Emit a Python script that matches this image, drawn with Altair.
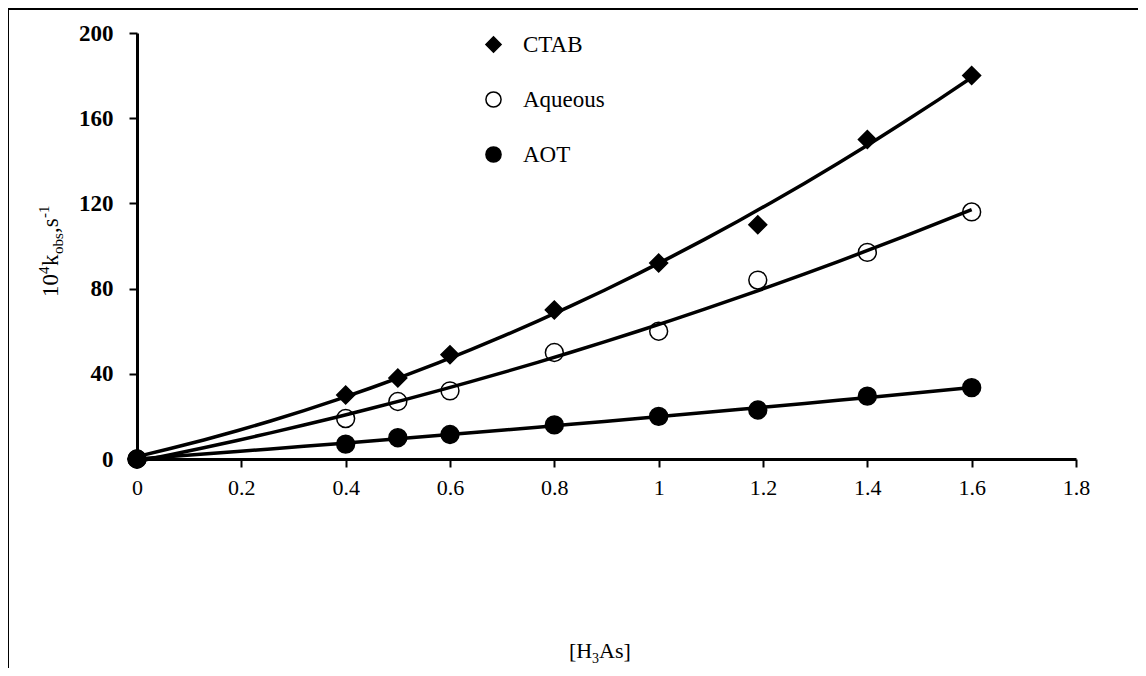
import altair as alt
import pandas as pd

# ---- data ----
conc = [0, 0.4, 0.5, 0.6, 0.8, 1.0, 1.19, 1.4, 1.6]
ctab = [0, 30, 38, 49, 70, 92, 110, 150, 180]
aqueous = [0, 19, 27, 32, 50, 60, 84, 97, 116]
aot = [0, 7, 10, 11.5, 16, 20, 23, 29.5, 33.5]
series_names = ["CTAB", "Aqueous", "AOT"]
x_ticks = [0, 0.2, 0.4, 0.6, 0.8, 1.0, 1.2, 1.4, 1.6, 1.8]
y_ticks = [0, 40, 80, 120, 160, 200]

rows = []
for name, vals in zip(series_names, [ctab, aqueous, aot]):
    for xv, yv in zip(conc, vals):
        rows.append({"x": xv, "y": yv, "series": name})
df = pd.DataFrame(rows)

W, H = 939, 426
PL, PT = 129, 25
FONT = "Liberation Serif"

xs = alt.Scale(domain=[0, 1.8], nice=False, zero=False)
ys = alt.Scale(domain=[0, 200], nice=False)

x_axis = alt.Axis(values=x_ticks, title=None, labelFontSize=22, labelFont=FONT,
                  labelColor="black", tickColor="black", tickWidth=2, tickSize=8,
                  domainColor="black", domainWidth=3, labelPadding=10, grid=False,
                  labelFlush=False, labelExpr="format(datum.value, '~g')")
y_axis = alt.Axis(values=y_ticks, title=None, labelFontSize=23, labelFont=FONT,
                  labelFontWeight="bold", labelColor="black", tickColor="black",
                  tickWidth=2, tickSize=8, domainColor="black", domainWidth=3,
                  labelPadding=16, labelFlush=False, grid=False)

base = alt.Chart(df)

fits = base.transform_regression(
    "x", "y", groupby=["series"], method="poly", order=2
).mark_line(color="black", strokeWidth=3.5).encode(
    x=alt.X("x:Q", scale=xs, axis=x_axis),
    y=alt.Y("y:Q", scale=ys, axis=y_axis),
    detail="series:N",
)

legend = alt.Legend(title=None, orient="none", legendX=345, legendY=0,
                    labelFont=FONT, labelFontSize=23, labelColor="black",
                    symbolSize=230, symbolStrokeColor="black", symbolStrokeWidth=1.5,
                    rowPadding=31, labelOffset=18, padding=0)

points = base.mark_point(filled=True, strokeWidth=1.5, opacity=1,
                         size=320).encode(
    x=alt.X("x:Q", scale=xs, axis=x_axis),
    y=alt.Y("y:Q", scale=ys, axis=y_axis),
    shape=alt.Shape("series:N", scale=alt.Scale(domain=series_names,
                    range=["diamond", "circle", "circle"]), legend=legend),
    fill=alt.Fill("series:N", scale=alt.Scale(domain=series_names,
                  range=["black", "transparent", "black"]), legend=legend),
    stroke=alt.Stroke("series:N", scale=alt.Scale(domain=series_names,
                      range=["black", "black", "black"]), legend=legend),
)

one = alt.Data(values=[{}])


def txt(text, x, y, size=22, angle=0, dx=0, dy=0, align="left", weight="normal"):
    return alt.Chart(one).mark_text(
        text=text, font=FONT, fontSize=size, color="black", angle=angle,
        dx=dx, dy=dy, align=align, baseline="alphabetic", fontWeight=weight,
    ).encode(x=alt.value(x), y=alt.value(y))


# y-axis title: 10^4 k_obs, s^-1 (rotated)
yx, yy = -79, 264
ytitle = [
    txt("10", yx, yy, 23, 270, dx=0),
    txt("4", yx, yy, 15, 270, dx=23, dy=-9),
    txt("k", yx, yy, 23, 270, dx=31),
    txt("obs", yx, yy, 15, 270, dx=43, dy=5),
    txt(",s", yx, yy, 23, 270, dx=64),
    txt("-1", yx, yy, 15, 270, dx=79, dy=-9),
]
# x-axis title: [H3As]
tx, ty = 432, 625
xtitle = [
    txt("[H", tx, ty, 22, dx=0),
    txt("3", tx, ty, 14, dx=23, dy=5),
    txt("As]", tx, ty, 22, dx=30),
]

# outer frame (top and left edges visible)
frame_top = alt.Chart(one).mark_rule(color="black", strokeWidth=2).encode(
    x=alt.value(-129), x2=alt.value(1010), y=alt.value(-24))
frame_left = alt.Chart(one).mark_rule(color="black", strokeWidth=2).encode(
    x=alt.value(-129), y=alt.value(-24), y2=alt.value(700))

chart = alt.layer(frame_top, frame_left, fits, points, *ytitle, *xtitle).properties(
    width=W, height=H,
    background="white",
    autosize=alt.AutoSizeParams(type="none"),
    padding={"left": PL, "top": PT, "right": 1130 - PL - W, "bottom": 660 - PT - H},
).configure_view(stroke=None).configure_legend(
    labelFont=FONT, labelFontSize=23, labelColor="black",
    symbolStrokeColor="black", symbolStrokeWidth=1.5,
)

chart.save("out.html", embed_options={"renderer": "svg", "actions": False})
